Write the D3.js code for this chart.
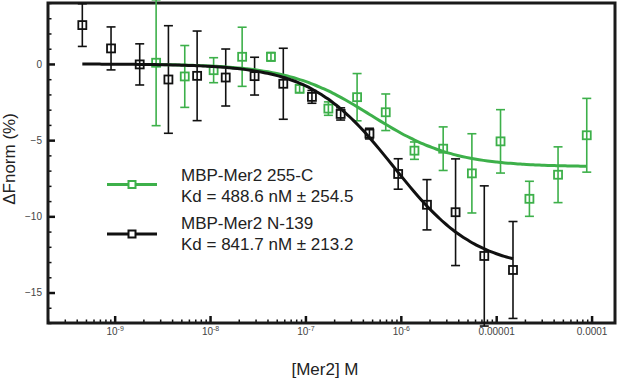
<!DOCTYPE html>
<html>
<head>
<meta charset="utf-8">
<script src="https://cdn.jsdelivr.net/npm/d3@7"></script>
<style>
  body { margin: 0; background: #fff; }
  text { font-family: "Liberation Sans", Arial, sans-serif; }
</style>
</head>
<body>
<div id="chart-area"></div>
<script>
// Data
const blackConc = [4.58e-10, 9.16e-10, 1.83e-9, 3.66e-9, 7.32e-9, 1.46e-8, 2.93e-8, 5.86e-8,
  1.17e-7, 2.34e-7, 4.69e-7, 9.38e-7, 1.88e-6, 3.75e-6, 7.5e-6, 1.5e-5]
const blackVal = [2.55, 1.02, -0.03, -1.02, -0.78, -0.89, -0.80, -1.30,
  -2.16, -3.28, -4.57, -7.22, -9.24, -9.73, -12.6, -13.52]
const blackErr = [1.4, 1.41, 1.35, 3.53, 2.94, 1.87, 1.24, 2.33,
  0.42, 0.4, 0.35, 1.0, 1.65, 3.5, 4.6, 3.18]

const greenConc = [2.72e-9, 5.43e-9, 1.09e-8, 2.17e-8, 4.35e-8, 8.69e-8, 1.74e-7, 3.48e-7,
  6.95e-7, 1.39e-6, 2.78e-6, 5.56e-6, 1.11e-5, 2.23e-5, 4.45e-5, 8.9e-5]
const greenVal = [0.08, -0.82, -0.41, 0.47, 0.47, -1.63, -2.93, -2.18,
  -3.17, -5.69, -5.56, -7.18, -5.08, -8.85, -7.27, -4.68]
const greenErr = [4.13, 2.03, 0.82, 1.94, 0.28, 0.25, 0.44, 1.55,
  1.2, 0.57, 1.43, 2.6, 2.08, 1.15, 1.83, 2.42]

// Fit parameters (Kd in M, bound plateau in %)
const blackKd = 841.7e-9
const blackBound = -13.5
const greenKd = 488.6e-9
const greenBound = -6.75

const seriesNames = ["MBP-Mer2 255-C", "MBP-Mer2 N-139"]
const kdLabels = ["Kd = 488.6 nM ± 254.5", "Kd = 841.7 nM ± 213.2"]

// Tick labels
const yTicks = [0, -5, -10, -15]
const xTicks = [1e-9, 1e-8, 1e-7, 1e-6, 1e-5, 1e-4]
const xTickBase = ["10", "10", "10", "10", "0.00001", "0.0001"]
const xTickExp = ["-9", "-8", "-7", "-6", "", ""]

const GREEN = "#3db04a"
const BLACK = "#111"

const W = 617, H = 378
const PLOT = { LEFT: 48, RIGHT: 615, TOP: 3, BOTTOM: 323 }

const svg = d3.select("#chart-area").append("svg")
  .attr("width", W)
  .attr("height", H)

const x = d3.scaleLog()
  .domain([2e-10, 1.76e-4])
  .range([PLOT.LEFT, PLOT.RIGHT])

const y = d3.scaleLinear()
  .domain([-17, 4])
  .range([PLOT.BOTTOM, PLOT.TOP])

// Y axis: major + minor ticks pointing inward
const yAxis = svg.append("g")
  .attr("transform", `translate(${PLOT.LEFT},0)`)
  .call(d3.axisLeft(y).tickValues(yTicks).tickSize(-7).tickPadding(6))
yAxis.select(".domain").remove()
yAxis.selectAll("line").attr("stroke", BLACK).attr("stroke-width", 2.5)
yAxis.selectAll("text").attr("font-size", "10px").attr("fill", "#444")
  .attr("font-family", "Liberation Sans, Arial, sans-serif")

const yMinor = d3.range(-17, 5).filter(v => v % 5 !== 0)
const yAxisMinor = svg.append("g")
  .attr("transform", `translate(${PLOT.LEFT},0)`)
  .call(d3.axisLeft(y).tickValues(yMinor).tickSize(-3.5).tickFormat(""))
yAxisMinor.select(".domain").remove()
yAxisMinor.selectAll("line").attr("stroke", BLACK).attr("stroke-width", 1.5)

// X axis
const xAxis = svg.append("g")
  .attr("transform", `translate(0,${PLOT.BOTTOM})`)
  .call(d3.axisBottom(x).tickValues(xTicks).tickSize(-7).tickPadding(5).tickFormat(""))
xAxis.select(".domain").remove()
xAxis.selectAll("line").attr("stroke", BLACK).attr("stroke-width", 2.5)
xAxis.selectAll(".tick text").each(function (d, i) {
  const t = d3.select(this)
    .attr("font-size", "10px")
    .attr("fill", "#444")
    .attr("font-family", "Liberation Sans, Arial, sans-serif")
  t.append("tspan").text(xTickBase[i])
  if (xTickExp[i]) {
    t.append("tspan").attr("dy", "-4").attr("font-size", "7px").text(xTickExp[i])
  }
})

const xMinor = x.ticks().filter(v => !xTicks.some(t => Math.abs(t - v) / t < 1e-6))
const xAxisMinor = svg.append("g")
  .attr("transform", `translate(0,${PLOT.BOTTOM})`)
  .call(d3.axisBottom(x).tickValues(xMinor).tickSize(-3.5).tickFormat(""))
xAxisMinor.select(".domain").remove()
xAxisMinor.selectAll("line").attr("stroke", BLACK).attr("stroke-width", 1.5)

// Frame
svg.append("rect")
  .attr("x", PLOT.LEFT)
  .attr("y", PLOT.TOP)
  .attr("width", PLOT.RIGHT - PLOT.LEFT)
  .attr("height", PLOT.BOTTOM - PLOT.TOP)
  .attr("fill", "none")
  .attr("stroke", "#1a1a1a")
  .attr("stroke-width", 3)

// Axis titles
svg.append("text")
  .attr("transform", `translate(15,159) rotate(-90)`)
  .attr("text-anchor", "middle")
  .attr("font-size", "17px")
  .attr("fill", "#222")
  .text("ΔFnorm (%)")

svg.append("text")
  .attr("x", 325)
  .attr("y", 375)
  .attr("text-anchor", "middle")
  .attr("font-size", "17px")
  .attr("fill", "#222")
  .text("[Mer2] M")

// Fit curves (single-site binding)
function fitPoints(conc, kd, bound) {
  const lo = Math.log10(conc[0]), hi = Math.log10(conc[conc.length - 1])
  return d3.range(0, 101).map(i => {
    const c = Math.pow(10, lo + (hi - lo) * i / 100)
    return [c, bound * c / (c + kd)]
  })
}

const line = d3.line()
  .x(d => x(d[0]))
  .y(d => y(d[1]))
  .curve(d3.curveBasis)

// Error bars and markers
function drawSeries(conc, val, err, color) {
  const data = conc.map((c, i) => ({ c: c, v: val[i], e: err[i] }))
  const g = svg.append("g")
    .attr("stroke", color)
    .attr("fill", "none")
    .attr("stroke-width", 1.6)

  g.selectAll(".bar").data(data).enter().append("line")
    .attr("x1", d => x(d.c)).attr("x2", d => x(d.c))
    .attr("y1", d => y(d.v + d.e)).attr("y2", d => y(d.v - d.e))
  g.selectAll(".capTop").data(data).enter().append("line")
    .attr("x1", d => x(d.c) - 4.5).attr("x2", d => x(d.c) + 4.5)
    .attr("y1", d => y(d.v + d.e)).attr("y2", d => y(d.v + d.e))
  g.selectAll(".capBot").data(data).enter().append("line")
    .attr("x1", d => x(d.c) - 4.5).attr("x2", d => x(d.c) + 4.5)
    .attr("y1", d => y(d.v - d.e)).attr("y2", d => y(d.v - d.e))
  g.selectAll("rect").data(data).enter().append("rect")
    .attr("x", d => x(d.c) - 4)
    .attr("y", d => y(d.v) - 4)
    .attr("width", 8)
    .attr("height", 8)
    .attr("stroke-width", 1.8)
}

drawSeries(greenConc, greenVal, greenErr, GREEN)
drawSeries(blackConc, blackVal, blackErr, BLACK)

svg.append("path")
  .datum(fitPoints(greenConc, greenKd, greenBound))
  .attr("d", line)
  .attr("fill", "none")
  .attr("stroke", GREEN)
  .attr("stroke-width", 3)

svg.append("path")
  .datum(fitPoints(blackConc, blackKd, blackBound))
  .attr("d", line)
  .attr("fill", "none")
  .attr("stroke", BLACK)
  .attr("stroke-width", 3)

// Legend
const legendColors = [GREEN, BLACK]
const legendLineY = [184.5, 234]
const legendTextY = [[181, 201.5], [229, 249.5]]
legendColors.forEach((col, i) => {
  svg.append("line")
    .attr("x1", 107).attr("x2", 157)
    .attr("y1", legendLineY[i]).attr("y2", legendLineY[i])
    .attr("stroke", col)
    .attr("stroke-width", 3)
  svg.append("rect")
    .attr("x", 128.5).attr("y", legendLineY[i] - 3.5)
    .attr("width", 7).attr("height", 7)
    .attr("fill", "#fff")
    .attr("stroke", col)
    .attr("stroke-width", 2)
  svg.append("text")
    .attr("x", 181).attr("y", legendTextY[i][0])
    .attr("font-size", "17px").attr("fill", "#222")
    .text(seriesNames[i])
  svg.append("text")
    .attr("x", 181).attr("y", legendTextY[i][1])
    .attr("font-size", "17px").attr("fill", "#222")
    .text(kdLabels[i])
})
</script>
</body>
</html>
